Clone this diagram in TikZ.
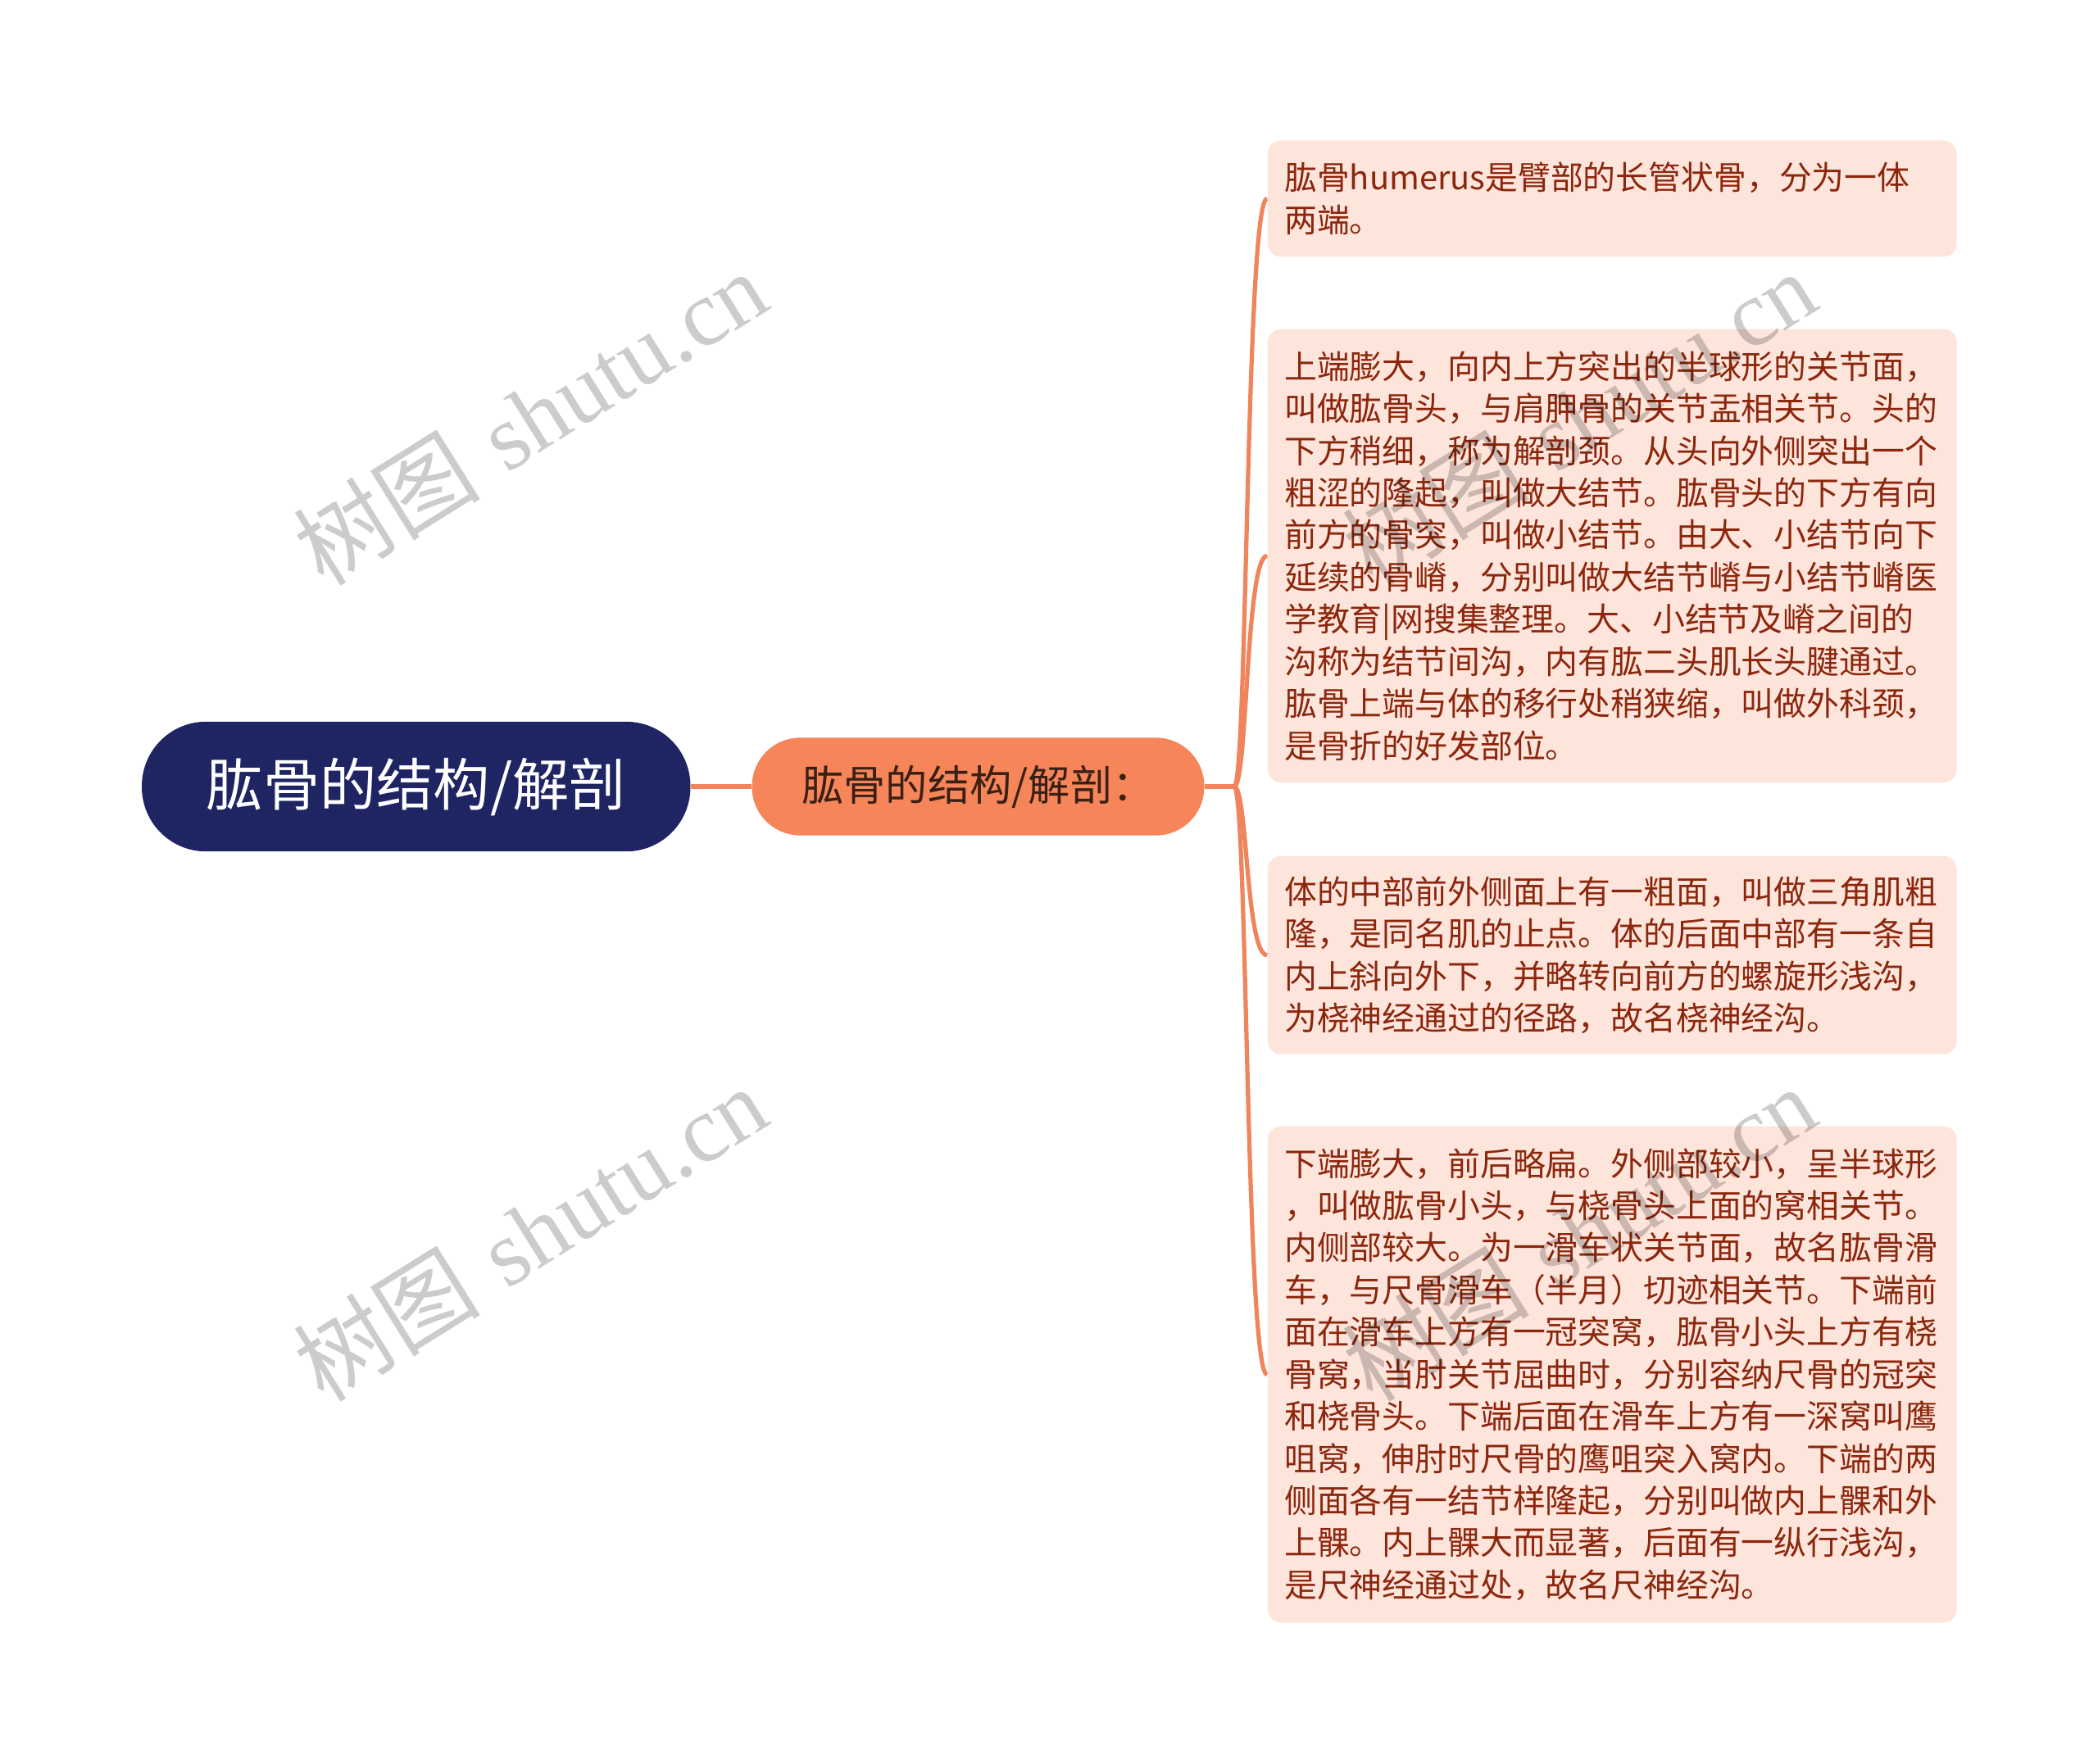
\documentclass[tikz,border=0pt]{standalone}
\usepackage{fontspec}
\usetikzlibrary{positioning}
\newfontfamily\cjkfont{Noto Sans CJK SC}
\newfontfamily\wmlatin{Liberation Serif}
\definecolor{rootblue}{RGB}{31,36,99}
\definecolor{midorange}{RGB}{246,134,90}
\definecolor{linkorange}{RGB}{240,132,92}
\definecolor{leafpeach}{RGB}{253,229,220}
\definecolor{leaftext}{RGB}{140,38,12}
\definecolor{midtext}{RGB}{58,32,20}
\tikzset{
  rootbox/.style={fill=rootblue, text=white, rounded corners=24pt, minimum width=205pt,
    minimum height=48.5pt, font=\cjkfont\fontsize{21.2}{26}\selectfont},
  midbox/.style={fill=midorange, text=midtext, rounded corners=18pt, minimum width=169pt,
    minimum height=36.5pt, font=\cjkfont\fontsize{15.7}{19}\selectfont},
  leafbox/.style={anchor=west, fill=leafpeach, text=leaftext, rounded corners=5pt,
    text width=245pt, inner xsep=6.25pt, inner ysep=0pt, align=left,
    font=\cjkfont\fontsize{12.2}{15.75}\selectfont},
  branch/.style={draw=linkorange, line width=1.6pt},
  watermark/.style={text=black, text opacity=0.2, rotate=32, font=\fontsize{35}{40}\selectfont}
}
\begin{document}
\begin{tikzpicture}[x=0.5pt, y=-0.5pt]
  \useasboundingbox (0,0) rectangle (1568,1318.7);
  % main topic and its one subtopic
  \node[rootbox] (root) at (311,588) {肱骨的结构/解剖};
  \node[midbox] (mid) at (731,588) {肱骨的结构/解剖：};
  \draw[branch] (root.east) -- (mid.west);
  % the four text boxes
  \node[leafbox, minimum height=43.5pt] (leafA) at (947,148.5) {肱骨humerus是臂部的长管状骨，分为一体\\
    两端。};
  \node[leafbox, minimum height=169.5pt] (leafB) at (947,415.5) {上端膨大，向内上方突出的半球形的关节面，\\
    叫做肱骨头，与肩胛骨的关节盂相关节。头的\\
    下方稍细，称为解剖颈。从头向外侧突出一个\\
    粗涩的隆起，叫做大结节。肱骨头的下方有向\\
    前方的骨突，叫做小结节。由大、小结节向下\\
    延续的骨嵴，分别叫做大结节嵴与小结节嵴医\\
    学教育|网搜集整理。大、小结节及嵴之间的\\
    沟称为结节间沟，内有肱二头肌长头腱通过。\\
    肱骨上端与体的移行处稍狭缩，叫做外科颈，\\
    是骨折的好发部位。};
  \node[leafbox, minimum height=74pt] (leafC) at (947,714) {体的中部前外侧面上有一粗面，叫做三角肌粗\\
    隆，是同名肌的止点。体的后面中部有一条自\\
    内上斜向外下，并略转向前方的螺旋形浅沟，\\
    为桡神经通过的径路，故名桡神经沟。};
  \node[leafbox, minimum height=185.5pt] (leafD) at (947,1027.5) {下端膨大，前后略扁。外侧部较小，呈半球形\\
    ，叫做肱骨小头，与桡骨头上面的窝相关节。\\
    内侧部较大。为一滑车状关节面，故名肱骨滑\\
    车，与尺骨滑车（半月）切迹相关节。下端前\\
    面在滑车上方有一冠突窝，肱骨小头上方有桡\\
    骨窝，当肘关节屈曲时，分别容纳尺骨的冠突\\
    和桡骨头。下端后面在滑车上方有一深窝叫鹰\\
    咀窝，伸肘时尺骨的鹰咀突入窝内。下端的两\\
    侧面各有一结节样隆起，分别叫做内上髁和外\\
    上髁。内上髁大而显著，后面有一纵行浅沟，\\
    是尺神经通过处，故名尺神经沟。};
  % fork and curved branches
  \coordinate (fork) at ([xshift=11pt]mid.east);
  \draw[branch] (mid.east) -- (fork);
  \foreach \leaf in {leafA,leafB,leafC,leafD}{
    \draw[branch] (fork) .. controls ([xshift=5pt]fork) and ([xshift=-8pt]\leaf.west) .. (\leaf.west);
  }
  % watermarks
  \foreach \wx/\wy [count=\i] in {396/312, 396/922, 1180/312, 1180/922}{
    \node[watermark] (wm\i) at (\wx,\wy) {{\cjkfont 树图} {\wmlatin shutu.cn}};
  }
\end{tikzpicture}
\end{document}
